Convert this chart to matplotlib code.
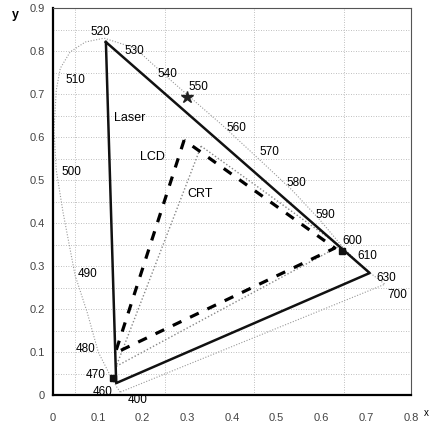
import numpy as np
import matplotlib
matplotlib.use('Agg')
from matplotlib import pyplot as plt

plt.rcParams['font.family'] = ['Liberation Sans', 'DejaVu Sans']

# spectral locus as drawn in the picture (x, y)
locus_x = [0.150, 0.141, 0.127, 0.101, 0.076, 0.049, 0.022, 0.007, 0.002, 0.007, 0.016,
           0.038, 0.072, 0.114, 0.183, 0.250, 0.306, 0.378, 0.458, 0.534, 0.597,
           0.648, 0.677, 0.713, 0.742, 0.150]
locus_y = [0.007, 0.021, 0.047, 0.100, 0.193, 0.279, 0.426, 0.523, 0.616, 0.709, 0.760,
           0.798, 0.821, 0.830, 0.807, 0.744, 0.693, 0.628, 0.551, 0.477, 0.407,
           0.344, 0.314, 0.281, 0.258, 0.007]

# wavelength labels
wl_labels = ['520', '530', '540', '550', '560', '570', '580', '590', '600', '610',
             '630', '700', '510', '500', '490', '480', '470', '460', '400']
wl_x = [0.105, 0.181, 0.255, 0.326, 0.409, 0.483, 0.545, 0.608, 0.670, 0.702,
        0.746, 0.769, 0.049, 0.040, 0.078, 0.072, 0.094, 0.110, 0.190]
wl_y = [0.844, 0.800, 0.747, 0.716, 0.621, 0.565, 0.493, 0.419, 0.358, 0.323,
        0.272, 0.232, 0.733, 0.519, 0.281, 0.107, 0.047, 0.007, -0.012]

# gamut triangles
laser_x = [0.118, 0.141, 0.708, 0.118]
laser_y = [0.821, 0.028, 0.284, 0.821]
lcd_x = [0.293, 0.139, 0.630, 0.293]
lcd_y = [0.593, 0.098, 0.342, 0.593]
crt_x = [0.331, 0.141, 0.641, 0.331]
crt_y = [0.579, 0.067, 0.347, 0.579]

gamut_names = ['Laser', 'LCD', 'CRT']
name_x = [0.172, 0.223, 0.329]
name_y = [0.644, 0.553, 0.467]

# marked laser wavelengths
star_x, star_y = 0.299, 0.693
sq_x = [0.646, 0.134]
sq_y = [0.335, 0.040]

fig = plt.figure(figsize=(4.32, 4.24), dpi=100)
ax = fig.add_axes([0.123, 0.068, 0.828, 0.913])

ax.plot(locus_x, locus_y, color='#999999', lw=0.8, ls=(0, (1, 1.5)))
ax.plot(crt_x, crt_y, color='#888888', lw=1.0, ls=(0, (1, 1.5)))
ax.plot(lcd_x, lcd_y, color='black', lw=2.3, ls=(0, (3, 3)))
ax.plot(laser_x, laser_y, color='#111111', lw=1.8)

ax.plot(star_x, star_y, marker='*', ms=9, color='#222222', ls='none')
ax.plot(sq_x, sq_y, marker='s', ms=5, color='#111111', ls='none')

for t, x, y in zip(wl_labels, wl_x, wl_y):
    ax.text(x, y, t, fontsize=8.5, ha='center', va='center', clip_on=False)
for t, x, y in zip(gamut_names, name_x, name_y):
    ax.text(x, y, t, fontsize=9, ha='center', va='center')

ax.set_xlim(0, 0.8)
ax.set_ylim(0, 0.9)
ax.set_xticks(np.arange(0, 0.81, 0.1))
ax.set_yticks(np.arange(0, 0.91, 0.1))
ax.set_xticklabels(['0', '0.1', '0.2', '0.3', '0.4', '0.5', '0.6', '0.7', '0.8'])
ax.set_yticklabels(['0', '0.1', '0.2', '0.3', '0.4', '0.5', '0.6', '0.7', '0.8', '0.9'])
ax.tick_params(length=0, labelsize=8, labelcolor='#444444')
ax.tick_params(axis='x', pad=13)
ax.tick_params(axis='y', pad=6)

for v in [0.05, 0.25, 0.45, 0.65]:
    ax.axvline(v, color='#aaaaaa', lw=0.6, ls=(0, (1, 2)), zorder=0)
for v in np.arange(0.05, 0.9, 0.05):
    ax.axhline(v, color='#aaaaaa', lw=0.6, ls=(0, (1, 2)), zorder=0)

for s in ['left', 'bottom']:
    ax.spines[s].set_linewidth(1.6)
for s in ['top', 'right']:
    ax.spines[s].set_linestyle((0, (1, 1)))
    ax.spines[s].set_color('#555555')

fig.text(0.036, 0.965, 'y', fontsize=9, ha='center', va='center', fontweight='bold')
fig.text(0.988, 0.025, 'x', fontsize=7, ha='center', va='center')

plt.savefig('out.png', dpi=100)
